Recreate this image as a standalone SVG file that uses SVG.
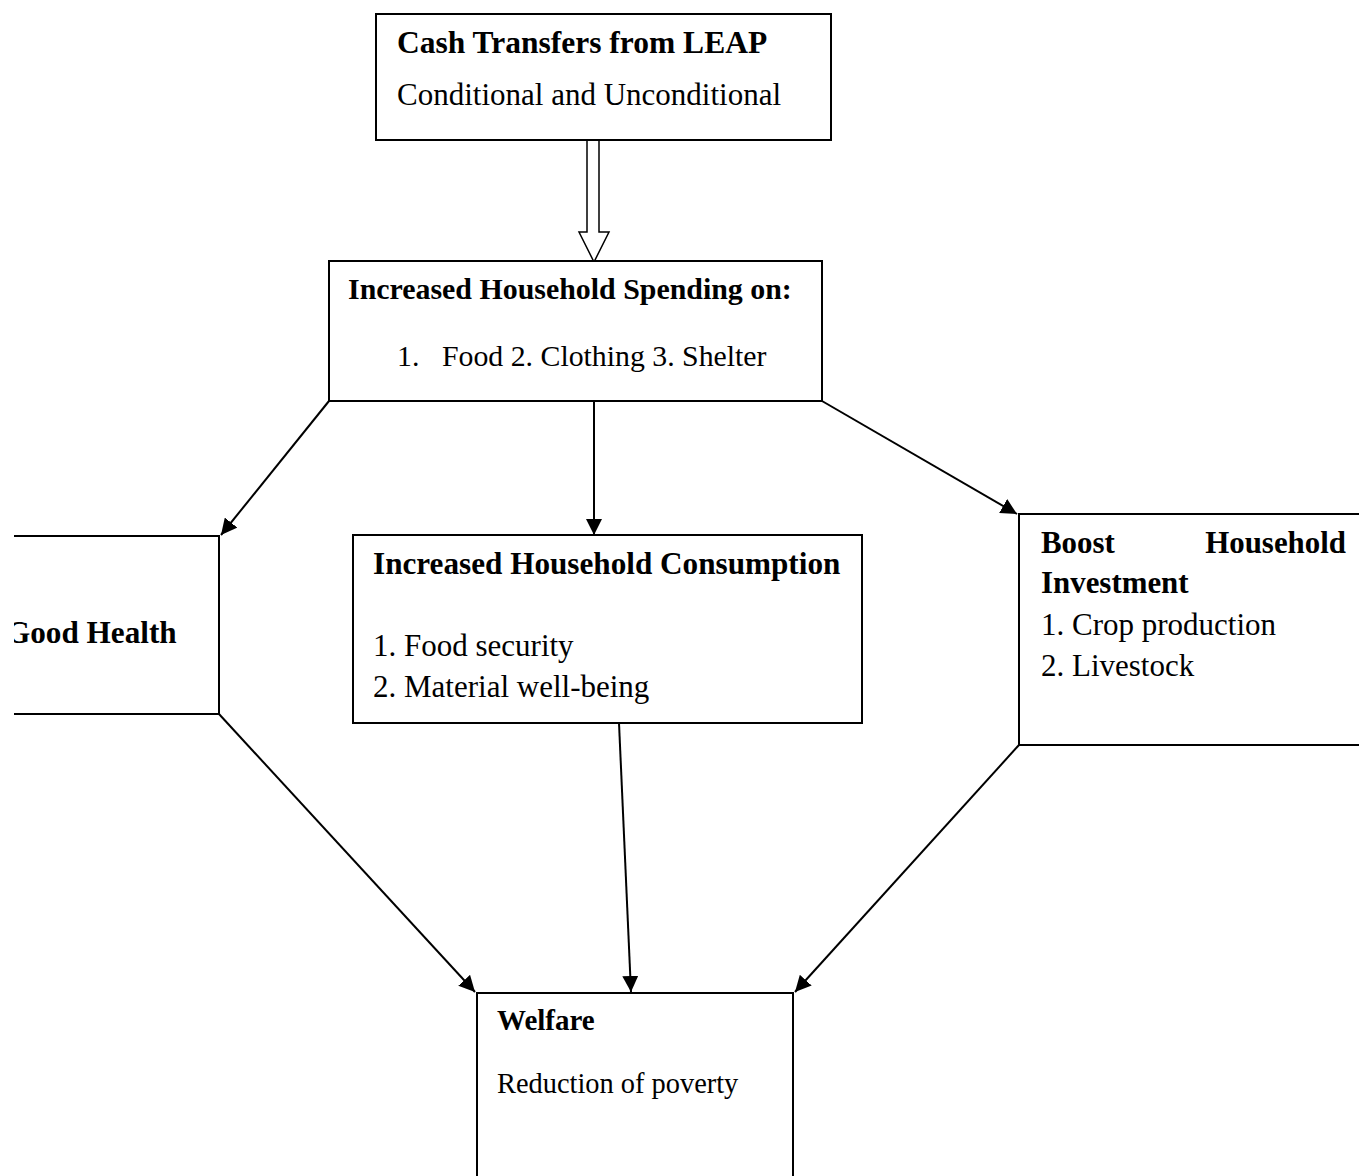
<svg xmlns="http://www.w3.org/2000/svg" width="1359" height="1176" viewBox="0 0 1359 1176">
<style>
.box{fill:#fff;stroke:#000;stroke-width:2}
.edge{stroke:#000;stroke-width:2;fill:none}
text{font-family:"Liberation Serif","Times New Roman",serif;fill:#000}
.b{font-weight:bold;font-size:31.2px}
.r{font-size:31px}
.sb{font-weight:bold;font-size:29.9px}
.sr{font-size:29.8px}
.s{font-size:28.4px}
</style>
<defs>
<marker id="ah2" viewBox="0 0 10 10" refX="10" refY="5" markerWidth="16" markerHeight="16" markerUnits="userSpaceOnUse" orient="auto"><path d="M0,0 L10,5 L0,10 z" fill="#000"/></marker>
<clipPath id="gh"><rect x="14" y="520" width="220" height="210"/></clipPath>
</defs>
<rect width="1359" height="1176" fill="#fff"/>
<g id="connectors">
<path d="M587,140 V232 H579 L594,262 L609,232 H599 V140" fill="#fff" stroke="#000" stroke-width="1.5"/>
<line class="edge" x1="329" y1="401" x2="221" y2="535" marker-end="url(#ah2)"/>
<line class="edge" x1="594" y1="401" x2="594" y2="535" marker-end="url(#ah2)"/>
<line class="edge" x1="822" y1="401" x2="1017" y2="514" marker-end="url(#ah2)"/>
<line class="edge" x1="219" y1="714" x2="475" y2="992" marker-end="url(#ah2)"/>
<line class="edge" x1="619" y1="723" x2="631" y2="992" marker-end="url(#ah2)"/>
<line class="edge" x1="1019" y1="745" x2="795" y2="992" marker-end="url(#ah2)"/>
</g>
<g id="cash">
<rect class="box" x="376" y="14" width="455" height="126"/>
<text class="b" x="397" y="53" style="font-size:31.5px">Cash Transfers from LEAP</text>
<text class="r" x="397" y="105">Conditional and Unconditional</text>
</g>
<g id="spending">
<rect class="box" x="329" y="261" width="493" height="140"/>
<text class="sb" x="348" y="299">Increased Household Spending on:</text>
<text class="sr" x="397" y="366">1.</text>
<text class="sr" x="442" y="366">Food 2. Clothing 3. Shelter</text>
</g>
<g id="health">
<path class="box" d="M14,536 H219 V714 H14"/>
<text class="b" x="6" y="643" clip-path="url(#gh)">Good Health</text>
</g>
<g id="consumption">
<rect class="box" x="353" y="535" width="509" height="188"/>
<text class="b" x="373" y="574">Increased Household Consumption</text>
<text class="r" x="373" y="656">1. Food security</text>
<text class="r" x="373" y="697">2. Material well-being</text>
</g>
<g id="investment">
<path class="box" d="M1359,514 H1019 V745 H1359"/>
<text class="b" x="1041" y="553" style="font-size:30.9px">Boost</text>
<text class="b" x="1346" y="553" text-anchor="end" style="font-size:30.9px">Household</text>
<text class="b" x="1041" y="593" style="font-size:30.9px">Investment</text>
<text class="r" x="1041" y="635">1. Crop production</text>
<text class="r" x="1041" y="676">2. Livestock</text>
</g>
<g id="welfare">
<path class="box" d="M477,1176 V993 H793 V1176"/>
<text class="b" x="497" y="1030" style="font-size:29px">Welfare</text>
<text class="s" x="497" y="1093">Reduction of poverty</text>
</g>
</svg>
